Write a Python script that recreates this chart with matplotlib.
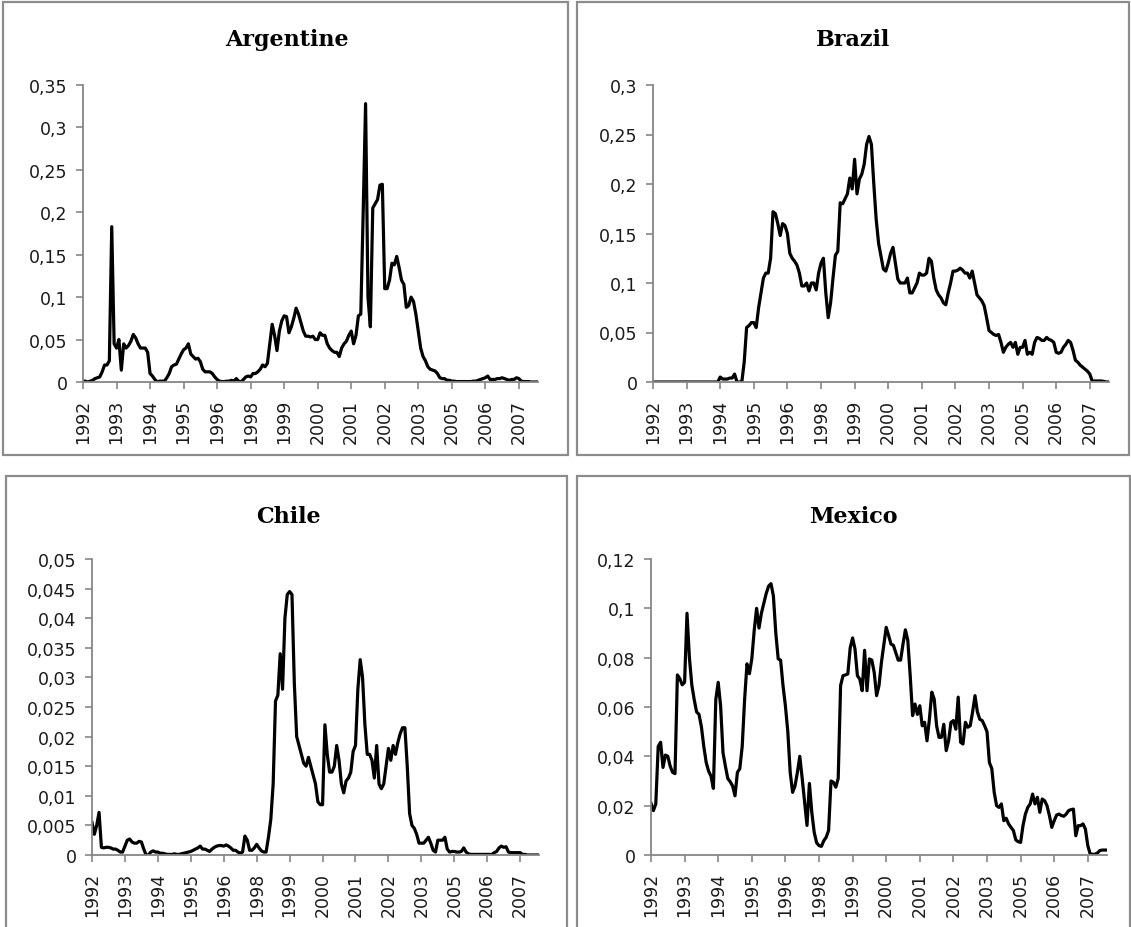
import matplotlib
matplotlib.use("Agg")
import matplotlib.pyplot as plt
import numpy as np
from matplotlib.patches import Rectangle
from matplotlib.ticker import FuncFormatter

# monthly series, 191 points each
argentine = [
    0.001, 0.001, 0.000, 0.001, 0.002, 0.004, 0.005, 0.006, 0.012, 0.020,
    0.020, 0.025, 0.183, 0.045, 0.040, 0.050, 0.014, 0.045, 0.040, 0.043,
    0.048, 0.056, 0.052, 0.045, 0.040, 0.040, 0.040, 0.035, 0.010, 0.007,
    0.003, 0.000, 0.001, 0.001, 0.001, 0.005, 0.010, 0.018, 0.020, 0.021,
    0.027, 0.033, 0.038, 0.040, 0.045, 0.033, 0.030, 0.027, 0.028, 0.024,
    0.015, 0.012, 0.012, 0.012, 0.010, 0.006, 0.003, 0.001, 0.0005, 0.0005,
    0.001, 0.001, 0.002, 0.001, 0.004, 0.001, 0.000, 0.003, 0.006, 0.007,
    0.006, 0.010, 0.010, 0.012, 0.015, 0.020, 0.018, 0.022, 0.045, 0.068,
    0.055, 0.037, 0.060, 0.072, 0.078, 0.077, 0.058, 0.065, 0.075, 0.087,
    0.080, 0.070, 0.060, 0.054, 0.054, 0.053, 0.054, 0.050, 0.050, 0.058,
    0.055, 0.055, 0.045, 0.040, 0.037, 0.035, 0.035, 0.030, 0.040, 0.045,
    0.048, 0.055, 0.060, 0.045, 0.055, 0.078, 0.080, 0.200, 0.328, 0.100,
    0.065, 0.205, 0.210, 0.215, 0.232, 0.233, 0.110, 0.110, 0.120, 0.140,
    0.138, 0.148, 0.135, 0.120, 0.115, 0.088, 0.090, 0.100, 0.095, 0.080,
    0.060, 0.040, 0.030, 0.025, 0.018, 0.015, 0.014, 0.013, 0.010, 0.005,
    0.004, 0.004, 0.002, 0.002, 0.001, 0.001, 0.0005, 0.0005, 0.0005, 0.0005,
    0.0005, 0.0005, 0.0005, 0.001, 0.001, 0.002, 0.003, 0.004, 0.005, 0.007,
    0.003, 0.003, 0.003, 0.004, 0.004, 0.005, 0.004, 0.003, 0.002, 0.003,
    0.003, 0.005, 0.004, 0.001, 0.0005, 0.0005, 0.0005, 0.000, 0.000, 0.000,
    0.000,
]

brazil = [
    0.0, 0.0, 0.0, 0.0, 0.0, 0.0, 0.0, 0.0, 0.0, 0.0,
    0.0, 0.0, 0.0, 0.0, 0.0, 0.0, 0.0, 0.0, 0.0, 0.0,
    0.0, 0.0, 0.0, 0.0, 0.0, 0.0, 0.0, 0.0, 0.005, 0.003,
    0.003, 0.003, 0.004, 0.004, 0.008, 0.0, 0.0, 0.0, 0.020, 0.055,
    0.057, 0.060, 0.060, 0.055, 0.075, 0.090, 0.105, 0.110, 0.110, 0.125,
    0.172, 0.170, 0.160, 0.148, 0.160, 0.158, 0.150, 0.130, 0.125, 0.122,
    0.118, 0.110, 0.097, 0.097, 0.100, 0.092, 0.100, 0.100, 0.093, 0.110,
    0.120, 0.125, 0.090, 0.065, 0.080, 0.105, 0.128, 0.132, 0.181, 0.180,
    0.185, 0.190, 0.206, 0.195, 0.225, 0.190, 0.205, 0.210, 0.220, 0.240,
    0.248, 0.240, 0.200, 0.164, 0.140, 0.127, 0.114, 0.112, 0.120, 0.130,
    0.136, 0.120, 0.104, 0.100, 0.100, 0.100, 0.105, 0.090, 0.090, 0.095,
    0.100, 0.110, 0.108, 0.108, 0.110, 0.125, 0.122, 0.105, 0.093, 0.088,
    0.085, 0.080, 0.078, 0.090, 0.100, 0.112, 0.112, 0.113, 0.115, 0.113,
    0.110, 0.110, 0.105, 0.112, 0.100, 0.088, 0.085, 0.082, 0.077, 0.065,
    0.052, 0.050, 0.048, 0.047, 0.048, 0.040, 0.030, 0.035, 0.038, 0.040,
    0.035, 0.040, 0.028, 0.035, 0.035, 0.042, 0.028, 0.030, 0.028, 0.040,
    0.045, 0.044, 0.042, 0.042, 0.045, 0.043, 0.042, 0.040, 0.030, 0.029,
    0.030, 0.035, 0.038, 0.042, 0.040, 0.032, 0.022, 0.020, 0.017, 0.015,
    0.013, 0.011, 0.008, 0.001, 0.001, 0.001, 0.001, 0.001, 0.0005, 0.0,
    0.0,
]

chile = [
    0.0055, 0.0035, 0.0050, 0.0072, 0.0013, 0.0012, 0.0013, 0.0013, 0.0012, 0.0010,
    0.0010, 0.0008, 0.0005, 0.0005, 0.0015, 0.0025, 0.0027, 0.0022, 0.0020, 0.0020,
    0.0023, 0.0022, 0.0010, 0.0000, 0.0000, 0.0005, 0.0007, 0.0005, 0.0005, 0.0003,
    0.0003, 0.0002, 0.0001, 0.0001, 0.0001, 0.0002, 0.0001, 0.0001, 0.0002, 0.0003,
    0.0004, 0.0005, 0.0006, 0.0008, 0.0010, 0.0012, 0.0015, 0.0010, 0.0010, 0.0008,
    0.0006, 0.0010, 0.0013, 0.0015, 0.0016, 0.0016, 0.0015, 0.0017, 0.0015, 0.0012,
    0.0008, 0.0008, 0.0005, 0.0003, 0.0005, 0.0032, 0.0025, 0.0008, 0.0008, 0.0012,
    0.0018, 0.0012, 0.0007, 0.0005, 0.0005, 0.0030, 0.0060, 0.0120, 0.0260, 0.0270,
    0.0340, 0.0280, 0.0400, 0.0440, 0.0445, 0.0440, 0.0290, 0.0200, 0.0185, 0.0170,
    0.0155, 0.0150, 0.0165, 0.0150, 0.0135, 0.0120, 0.0090, 0.0085, 0.0085, 0.0220,
    0.0170, 0.0140, 0.0140, 0.0150, 0.0185, 0.0160, 0.0120, 0.0105, 0.0125, 0.0130,
    0.0140, 0.0175, 0.0185, 0.0280, 0.0330, 0.0300, 0.0220, 0.0170, 0.0170, 0.0160,
    0.0130, 0.0185, 0.0120, 0.0112, 0.0120, 0.0150, 0.0180, 0.0160, 0.0185, 0.0170,
    0.0190, 0.0205, 0.0215, 0.0215, 0.0150, 0.0070, 0.0050, 0.0045, 0.0035, 0.0020,
    0.0020, 0.0020, 0.0025, 0.0030, 0.0020, 0.0008, 0.0005, 0.0025, 0.0025, 0.0025,
    0.0030, 0.0010, 0.0005, 0.0006, 0.0006, 0.0005, 0.0005, 0.0006, 0.0012, 0.0005,
    0.0002, 0.0001, 0.0001, 0.0001, 0.0001, 0.0001, 0.0001, 0.0001, 0.0001, 0.0001,
    0.0001, 0.0004, 0.0006, 0.0012, 0.0015, 0.0013, 0.0014, 0.0005, 0.0004, 0.0004,
    0.0004, 0.0004, 0.0004, 0.0001, 0.0001, 0.0000, 0.0000, 0.0000, 0.0000, 0.0000,
    0.0000,
]

mexico = [
    0.0210, 0.0180, 0.0207, 0.0440, 0.0457, 0.0355, 0.0405, 0.0400, 0.0360, 0.0335,
    0.0330, 0.0730, 0.0715, 0.0690, 0.0700, 0.0980, 0.0800, 0.0690, 0.0630, 0.0580,
    0.0570, 0.0520, 0.0440, 0.0375, 0.0340, 0.0320, 0.0270, 0.0630, 0.0700, 0.0605,
    0.0415, 0.0360, 0.0310, 0.0297, 0.0280, 0.0240, 0.0335, 0.0350, 0.0440, 0.0630,
    0.0775, 0.0735, 0.0795, 0.0910, 0.1000, 0.0920, 0.0980, 0.1020, 0.1060, 0.1090,
    0.1100, 0.1050, 0.0900, 0.0795, 0.0790, 0.0687, 0.0605, 0.0500, 0.0335, 0.0254,
    0.0280, 0.0335, 0.0400, 0.0310, 0.0213, 0.0120, 0.0290, 0.0173, 0.0092, 0.0050,
    0.0038, 0.0035, 0.0058, 0.0072, 0.0100, 0.0300, 0.0295, 0.0275, 0.0310, 0.0687,
    0.0727, 0.0730, 0.0734, 0.0840, 0.0880, 0.0835, 0.0727, 0.0713, 0.0666, 0.0830,
    0.0666, 0.0795, 0.0790, 0.0740, 0.0646, 0.0687, 0.0780, 0.0850, 0.0923, 0.0890,
    0.0855, 0.0850, 0.0820, 0.0790, 0.0790, 0.0855, 0.0913, 0.0870, 0.0727, 0.0565,
    0.0612, 0.0570, 0.0605, 0.0524, 0.0538, 0.0463, 0.0550, 0.0660, 0.0632, 0.0524,
    0.0477, 0.0477, 0.0530, 0.0423, 0.0463, 0.0538, 0.0545, 0.0510, 0.0640, 0.0457,
    0.0450, 0.0538, 0.0518, 0.0524, 0.0580, 0.0646, 0.0580, 0.0550, 0.0545, 0.0524,
    0.0500, 0.0375, 0.0350, 0.0254, 0.0200, 0.0193, 0.0207, 0.0139, 0.0149, 0.0126,
    0.0112, 0.0099, 0.0061, 0.0054, 0.0051, 0.0119, 0.0166, 0.0193, 0.0207, 0.0247,
    0.0207, 0.0234, 0.0173, 0.0227, 0.0220, 0.0200, 0.0160, 0.0112, 0.0139, 0.0162,
    0.0166, 0.0160, 0.0157, 0.0166, 0.0180, 0.0184, 0.0186, 0.0078, 0.0119, 0.0119,
    0.0126, 0.0105, 0.0038, 0.0004, 0.0003, 0.0003, 0.0008, 0.0018, 0.0020, 0.0020,
    0.0020,
]

year_labels = ["1992", "1993", "1994", "1995", "1996", "1998", "1999",
               "2000", "2001", "2002", "2003", "2005", "2006", "2007"]
label_step = 14  # one category label every 14 months

W, H = 1131, 928
fig = plt.figure(figsize=(W / 100, H / 100), dpi=100)
fig.patch.set_facecolor("white")

GRAY = "#868686"


def comma_fmt(v, pos):
    return f"{round(v, 4):g}".replace(".", ",")


# (title, series, ymax, ystep, box px, axes px, title px)
panels = [
    ("Argentine", argentine, 0.35, 0.05, (3, 3, 568, 456), (83, 86, 538, 383), (287, 40)),
    ("Brazil", brazil, 0.30, 0.05, (577, 3, 1129, 456), (653, 86, 1109, 383), (853, 40)),
    ("Chile", chile, 0.05, 0.005, (6, 477, 567, 931), (92, 560, 539, 856), (288, 517)),
    ("Mexico", mexico, 0.12, 0.02, (577, 477, 1130, 931), (651, 560, 1107, 856), (853, 517)),
]

for title, series, ymax, ystep, box, axpx, tpos in panels:
    x0, y0, x1, y1 = box
    fig.patches.append(Rectangle((x0 / W, 1 - y1 / H), (x1 - x0) / W, (y1 - y0) / H,
                                 transform=fig.transFigure, fill=False,
                                 edgecolor="#8c8c8c", lw=1.6, zorder=0))
    l, t, r, b = axpx
    ax = fig.add_axes([l / W, 1 - b / H, (r - l) / W, (b - t) / H])
    x = np.arange(len(series))
    ax.plot(x, series, color="black", lw=2.3, solid_joinstyle="round")
    ax.set_xlim(0, len(series) - 1)
    ax.set_ylim(0, ymax)
    ax.set_yticks(np.arange(0, ymax + ystep / 2, ystep))
    ax.yaxis.set_major_formatter(FuncFormatter(comma_fmt))
    ax.set_xticks(np.arange(0, len(series), label_step)[:len(year_labels)])
    ax.set_xticklabels(year_labels, rotation=90)
    for s in ("top", "right"):
        ax.spines[s].set_visible(False)
    for s in ("left", "bottom"):
        ax.spines[s].set_color(GRAY)
        ax.spines[s].set_linewidth(1.3)
    ax.tick_params(axis="both", direction="out", length=5, width=1.2, color=GRAY,
                   labelsize=12.5, labelcolor="#1a1a1a")
    ax.tick_params(axis="y", pad=6)
    ax.tick_params(axis="x", pad=7)
    ax.patch.set_alpha(0)
    fig.text(tpos[0] / W, 1 - tpos[1] / H, title, ha="center", va="center",
             family="DejaVu Serif", fontweight="bold", fontsize=16)

fig.savefig("out.png", dpi=100)
